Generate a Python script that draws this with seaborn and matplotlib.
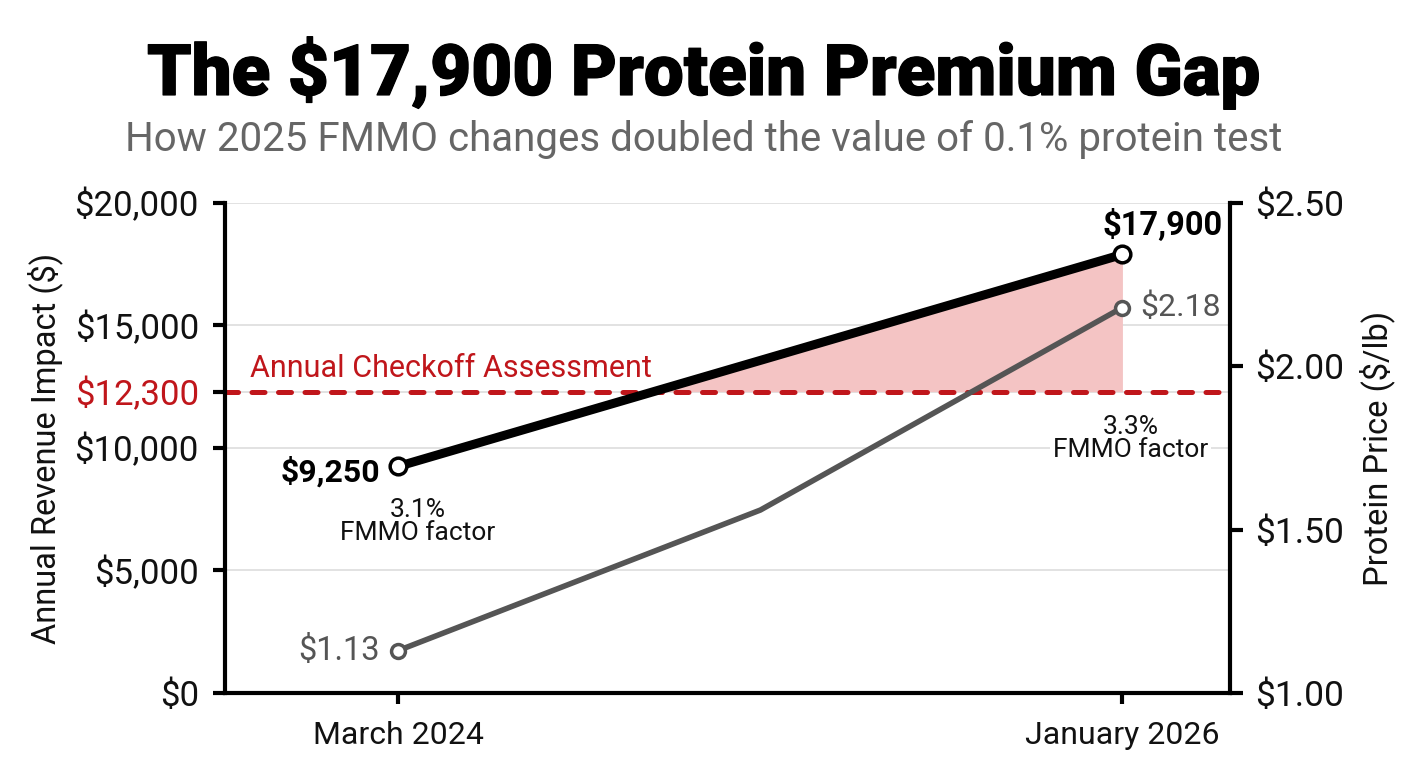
import matplotlib
matplotlib.use("Agg")
import matplotlib.pyplot as plt
import matplotlib.patheffects as pe
import seaborn as sns
import pandas as pd

# ---- data ----
periods = ["March 2024", "January 2026"]
period_pos = [0, 1]
revenue = [9250, 17900]
revenue_labels = ["$9,250", "$17,900"]
price_pos = [0, 0.5, 1]
protein_price = [1.13, 1.56, 2.18]
price_labels = ["$1.13", "$2.18"]
checkoff = 12300
fmmo_factor = ["3.1%", "3.3%"]
left_ticks = [0, 5000, 10000, 12300, 15000, 20000]
left_tick_labels = ["$0", "$5,000", "$10,000", "$12,300", "$15,000", "$20,000"]
right_ticks = [1.0, 1.5, 2.0, 2.5]
right_tick_labels = ["$1.00", "$1.50", "$2.00", "$2.50"]

RED = "#C0161B"
GRAY = "#555555"
FILL = "#F4C4C4"

def esc(s):
    return s.replace("$", r"\$")

sns.set_theme(style="white")
plt.rcParams['font.family'] = ['Roboto', 'DejaVu Sans']

fig = plt.figure(figsize=(14.08, 7.68), dpi=100)
ax = fig.add_axes([0.160, 0.0977, 0.7138, 0.638])

rev_df = pd.DataFrame({"pos": period_pos, "revenue": revenue})
price_df = pd.DataFrame({"pos": price_pos, "price": protein_price})

# fill above checkoff
ax.fill_between(rev_df["pos"], rev_df["revenue"], checkoff,
                where=[r > checkoff for r in revenue], interpolate=True,
                color=FILL, lw=0, zorder=1)
ax.axhline(checkoff, color=RED, lw=3.6, ls=(0, (2.6, 2.7)), zorder=2,
           dash_capstyle="round")
sns.lineplot(data=rev_df, x="pos", y="revenue", ax=ax, color="black", lw=6.5,
             marker="o", markersize=12, markerfacecolor="white",
             markeredgecolor="black", markeredgewidth=2.5, zorder=4)

ax.set_xlim(-0.239, 1.149)
ax.set_ylim(0, 20000)
ax.set_xticks(period_pos)
ax.set_xticklabels(periods, fontsize=23, color="#111111")
ax.set_yticks(left_ticks)
ax.set_yticklabels([esc(s) for s in left_tick_labels], fontsize=25,
                   color="#111111")
for t, lab in zip(ax.yaxis.get_major_ticks(), left_ticks):
    if lab == checkoff:
        t.tick1line.set_visible(False)
        t.gridline.set_visible(False)
        t.label1.set_color(RED)
ax.yaxis.grid(True, color="#dddddd", lw=1.2)
ax.set_axisbelow(True)
ax.set_xlabel("")
ax.set_ylabel(esc("Annual Revenue Impact ($)"), fontsize=23.5,
              labelpad=8, color="#111111")
for side in ["top", "right"]:
    ax.spines[side].set_visible(False)
for side in ["left", "bottom"]:
    ax.spines[side].set_color("black")
    ax.spines[side].set_linewidth(3)
ax.tick_params(axis="y", direction="out", length=9, width=3, color="black",
               pad=10, left=True)
ax.tick_params(axis="x", direction="out", length=8, width=3, color="black",
               pad=12, bottom=True)
ax.xaxis.get_major_ticks()[1].tick1line.set_color("#bbbbbb")

ax2 = ax.twinx()
sns.lineplot(data=price_df, x="pos", y="price", ax=ax2, color=GRAY, lw=4,
             marker="o", markevery=[0, len(protein_price) - 1], markersize=10,
             markerfacecolor="white", markeredgecolor=GRAY,
             markeredgewidth=2.5, zorder=3)
ax2.set_ylim(1.0, 2.5)
ax2.set_yticks(right_ticks)
ax2.set_yticklabels([esc(s) for s in right_tick_labels], fontsize=25.5,
                    color="#111111")
ax2.set_ylabel(esc("Protein Price ($/lb)"), fontsize=23.5,
               labelpad=11, color="#111111")
ax2.set_xlabel("")
for side in ["top", "left", "bottom"]:
    ax2.spines[side].set_visible(False)
ax2.spines["right"].set_color("black")
ax2.spines["right"].set_linewidth(3)
ax2.tick_params(axis="y", direction="out", length=9, width=3, color="black",
                pad=9, right=True)
ax2.grid(False)

# annotations
ax2.annotate(esc(revenue_labels[0]), xy=(period_pos[0], revenue[0]),
             xycoords=ax.transData, xytext=(-13, -4), textcoords="offset points",
             ha="right", va="center", fontsize=23, fontweight="bold", color="black")
ax2.annotate(esc(revenue_labels[1]), xy=(period_pos[1], revenue[1]),
             xycoords=ax.transData, xytext=(29, 21), textcoords="offset points",
             ha="center", va="center", fontsize=23.5, fontweight="bold", color="black")
ax2.annotate(esc(price_labels[0]), xy=(price_pos[0], protein_price[0]),
             xytext=(-13, 0), textcoords="offset points",
             ha="right", va="center", fontsize=23.5, color=GRAY)
ax2.annotate(esc(price_labels[1]), xy=(price_pos[-1], protein_price[-1]),
             xytext=(13, 0), textcoords="offset points",
             ha="left", va="center", fontsize=23, color=GRAY)
ax2.annotate(f"{fmmo_factor[0]}\nFMMO factor", xy=(period_pos[0], revenue[0]),
             xycoords=ax.transData, xytext=(14, -40), textcoords="offset points",
             ha="center", va="center", fontsize=19, linespacing=0.95, color="#111111")
ax2.annotate(f"{fmmo_factor[1]}\nFMMO factor", xy=(period_pos[1], checkoff),
             xycoords=ax.transData, xytext=(6, -34), textcoords="offset points",
             ha="center", va="center", fontsize=19, linespacing=0.95, color="#111111",
             bbox=dict(boxstyle="square,pad=0.1", fc="white", ec="none"))
ax.annotate("Annual Checkoff Assessment", xy=(0.025, checkoff),
            xycoords=("axes fraction", "data"), xytext=(0, 6),
            textcoords="offset points", ha="left", va="bottom",
            fontsize=22, color=RED)

fig.text(0.5, 0.905, esc("The $17,900 Protein Premium Gap"), ha="center",
         va="center", fontsize=51, fontweight="black", color="black",
         path_effects=[pe.withStroke(linewidth=0.9, foreground="black")])
fig.text(0.5, 0.818, "How 2025 FMMO changes doubled the value of 0.1% protein test",
         ha="center", va="center", fontsize=29, color="#666666")

fig.savefig("out.png", dpi=100)
